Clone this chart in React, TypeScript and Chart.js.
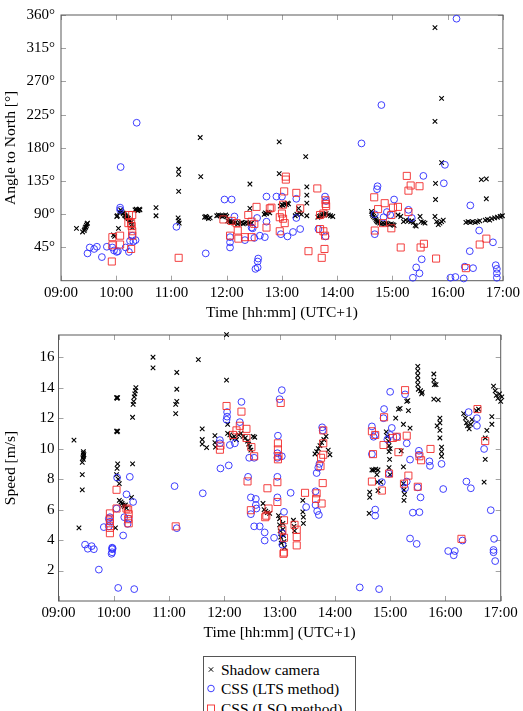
import React, { useEffect, useRef } from 'react';
import { Chart, registerables } from 'chart.js';

Chart.register(...registerables);

const FONT = '"Liberation Serif", "DejaVu Serif", serif';

// x: time of day in decimal hours, y: angle to north [deg]
const angleShadow: number[][] = [
  [9.28,71],[9.39,66],[9.42,68],[9.43,70],[9.44,72],[9.45,73],[9.46,75],[9.47,77],[9.48,78],
  [9.95,62],[9.97,60],[10.01,87],[10.02,88],[10.04,71],[10.06,93],[10.08,96],[10.10,94],[10.12,92],[10.13,91],[10.15,89],[10.16,88],[10.18,87],[10.19,86],[10.21,85],[10.22,84],[10.24,82],[10.25,81],[10.27,79],[10.28,76],[10.29,72],
  [10.34,96],[10.36,97],[10.37,96],[10.39,95],[10.40,96],[10.42,97],[10.43,96],
  [10.72,99],[10.72,88],
  [11.13,151],[11.13,144],[11.13,121],[11.12,85],[11.13,81],[11.14,78],
  [11.52,194],[11.53,141],
  [11.60,86],[11.62,87],[11.64,86],[11.67,84],[11.70,85],
  [11.82,88],[11.85,89],[11.88,88],[11.92,87],[11.95,88],[11.98,89],[12.0,87],
  [12.02,81],[12.05,80],[12.08,79],[12.1,80],[12.13,78],[12.16,79],[12.2,77],[12.24,78],[12.27,79],[12.3,77],[12.33,78],[12.36,79],[12.4,78],[12.43,77],[12.45,78],
  [12.42,131],[12.42,98],
  [12.68,90],[12.7,92],[12.72,91],[12.75,93],[12.78,92],
  [12.95,188],[12.95,145],
  [12.97,101],[13.0,103],[13.02,102],[13.05,104],[13.08,103],[13.1,105],[13.12,104],
  [13.24,88],[13.27,90],[13.3,98],[13.32,92],[13.35,90],
  [13.43,168],[13.45,127],[13.45,116],[13.45,105],[13.45,88],
  [13.65,86],[13.68,87],[13.7,88],[13.73,89],[13.76,90],[13.8,91],[13.84,89],[13.88,88],[13.92,87],
  [14.62,94],[14.63,91],[14.64,89],[14.66,87],[14.68,85],[14.7,83],[14.71,81],[14.73,80],[14.74,79],[14.77,78],[14.8,77],[14.83,78],[14.86,77],[14.89,78],[14.92,77],[14.95,76],[14.98,77],[15.01,76],[15.03,75],
  [15.1,89],[15.15,87],[15.2,80],[15.24,82],[15.29,81],[15.33,80],[15.35,81],[15.38,79],[15.41,75],[15.43,74],[15.5,87],[15.52,80],[15.56,79],[15.59,78],
  [15.77,343],[15.89,247],[15.77,216],[15.89,160],[15.78,132],[15.78,110],
  [15.77,87],[15.8,80],[15.83,76],[15.86,78],[15.89,80],[15.92,82],
  [16.33,79],[16.37,80],[16.41,79],[16.45,80],[16.5,79],[16.54,80],[16.58,81],
  [16.61,137],[16.7,138],[16.7,111],
  [16.68,82],[16.72,83],[16.76,82],[16.8,84],[16.85,85],[16.9,86],[16.95,87],[16.99,88],
];

const angleLTS: number[][] = [
  [9.48,37],[9.52,45],[9.6,43],[9.65,46],[9.74,32],[9.83,46],[9.93,45],[9.96,41],[10.01,39],[10.03,40],
  [10.07,99],[10.07,96],[10.08,154],[10.17,45],[10.23,39],[10.25,54],[10.29,61],[10.31,53],[10.35,55],[10.37,214],
  [11.09,73],[11.62,37],
  [11.96,110],[12.09,110],[12.14,87],[12.06,59],[12.06,52],[12.06,45],
  [12.33,55],[12.45,72],[12.47,71],[12.5,58],[12.55,85],[12.52,16],[12.56,18],[12.56,26],[12.57,30],[12.6,61],[12.69,59],[12.72,80],[12.72,114],[12.9,114],[12.98,63],[13.0,114],[13.1,60],[13.2,66],[13.26,111],[13.26,85],[13.33,70],[13.66,70],[13.78,114],[13.8,108],[13.79,60],
  [14.44,186],[14.68,63],[14.68,90],[14.72,124],[14.73,128],[14.8,238],[14.84,86],[14.9,93],[14.96,89],[15.03,110],[15.29,96],[15.35,85],
  [15.37,4],[15.43,18],[15.49,10],[15.53,29],[15.56,142],[15.93,132],[15.95,157],
  [16.05,4],[16.14,5],[16.29,3],[16.31,19],[16.16,355],[16.4,40],[16.41,102],[16.46,17],[16.57,68],[16.82,52],[16.87,21],[16.89,16],[16.89,10],[16.89,4],
];

const angleLSQ: number[][] = [
  [9.92,26],[9.93,48],[9.93,59],[10.07,61],[10.07,49],[10.22,78],[10.23,89],[10.27,78],[10.28,74],[10.29,89],[10.29,67],[10.29,61],[10.27,43],
  [11.13,31],
  [11.94,83],[12.09,81],[12.06,61],[12.18,78],[12.2,68],[12.21,57],[12.33,59],[12.39,89],[12.45,59],[12.45,80],[12.5,77],[12.54,100],[12.72,72],[12.78,98],[12.81,99],[12.96,67],[12.96,86],[13.0,91],[13.02,84],[13.02,103],[13.04,121],[13.05,78],[13.07,141],[13.07,137],[13.26,119],[13.33,98],[13.48,40],[13.64,125],[13.69,89],[13.69,70],[13.72,31],[13.75,91],[13.75,67],[13.77,43],[13.78,61],[13.79,109],[13.79,104],[13.8,101],
  [14.67,113],[14.68,68],[14.74,97],[14.83,78],[14.86,105],[14.98,89],[14.98,71],[15.01,99],[15.1,100],[15.15,45],[15.26,142],[15.29,122],[15.29,93],[15.33,129],[15.49,128],[15.51,45],[15.57,50],[15.79,30],[16.33,17],[16.58,49],[16.7,57],
];

// x: time of day in decimal hours, y: speed [m/s]
const speedShadow: number[][] = [
  [9.28,10.56],[9.45,9.8],[9.45,9.7],[9.46,9.6],[9.45,9.5],[9.44,9.4],[9.45,9.3],[9.43,9.1],[9.43,8.3],[9.43,7.3],[9.37,4.8],
  [10.05,13.35],[10.06,13.3],[10.07,13.35],[10.05,11.15],[10.06,11.1],[10.07,11.15],[10.07,9.0],[10.06,8.7],[10.05,8.3],[10.08,8.0],[10.1,7.7],[10.03,4.8],[10.1,6.6],[10.13,6.5],[10.15,6.4],[10.17,6.3],[10.19,6.2],[10.21,6.3],[10.23,6.1],
  [10.34,12.06],[10.35,12.9],[10.36,13.1],[10.37,13.4],[10.38,13.6],[10.39,13.8],[10.4,14.0],[10.34,9.0],[10.32,6.8],
  [10.71,16.0],[10.71,15.3],[11.14,15.0],[11.14,13.9],[11.14,13.1],[11.12,12.9],[11.12,12.3],[11.53,15.85],[11.6,11.3],[11.6,10.6],[11.6,10.3],[11.68,10.07],[11.83,10.85],[11.83,10.4],[11.84,10.1],
  [12.04,17.48],[12.04,14.5],[12.06,11.6],[12.06,11.0],[12.1,10.9],[12.14,10.7],[12.18,10.8],[12.22,10.6],[12.26,10.9],[12.3,11.0],[12.34,10.8],[12.38,10.7],[12.42,10.5],[12.44,10.3],[12.46,10.1],[12.48,9.9],[12.52,10.8],[12.55,10.75],
  [12.7,6.4],[12.72,6.0],[12.75,5.9],[12.78,5.8],[12.82,5.75],[12.98,5.6],[13.0,5.4],[13.0,5.0],[13.01,4.6],[13.02,4.2],[13.03,3.8],[13.06,5.1],[13.06,4.7],[13.07,4.3],[13.08,3.9],[13.09,3.5],[13.25,5.3],[13.26,4.9],[13.27,4.6],[13.42,6.6],[13.42,5.85],[13.43,5.5],[13.43,5.1],
  [13.64,9.65],[13.67,9.8],[13.7,10.0],[13.73,10.2],[13.76,10.4],[13.8,10.6],[13.84,10.8],[13.88,9.9],[13.91,9.6],
  [14.62,5.75],[14.63,7.14],[14.63,6.8],[14.67,8.6],[14.7,8.6],[14.74,8.65],[14.78,8.6],[14.76,8.3],[14.77,7.8],[14.78,7.25],[14.83,7.8],
  [14.93,11.1],[14.95,10.8],[14.97,10.5],[14.98,10.2],[15.0,10.0],[14.98,9.8],[14.99,9.3],[14.98,8.75],[15.0,8.3],
  [15.1,12.0],[15.15,12.6],[15.18,12.65],[15.24,11.6],[15.2,9.86],[15.24,8.8],[15.24,7.7],[15.25,7.3],[15.26,7.0],[15.25,6.6],[15.3,13.1],[15.32,13.15],[15.33,12.5],[15.36,11.35],
  [15.5,15.4],[15.5,15.1],[15.5,14.8],[15.5,14.5],[15.5,14.2],[15.51,13.9],[15.55,13.8],[15.57,13.6],[15.58,13.7],
  [15.79,14.9],[15.79,14.5],[15.8,14.2],[15.83,14.2],[15.87,13.2],[15.79,13.25],[15.85,11.5],[15.9,12.0],[15.9,11.7],[15.9,11.2],[15.9,10.7],[15.93,10.1],[15.93,9.8],[15.93,9.5],
  [16.33,12.3],[16.36,12.0],[16.38,11.7],[16.4,11.5],[16.43,11.3],[16.46,11.6],[16.48,11.9],[16.56,12.5],[16.6,12.6],
  [16.72,10.7],[16.72,9.3],[16.7,7.8],[16.75,11.2],[16.84,12.1],[16.84,11.6],
  [16.87,14.1],[16.9,13.8],[16.92,13.5],[16.95,13.3],[16.98,13.6],[17.0,13.1],[17.02,13.4],
];

const speedLTS: number[][] = [
  [9.48,3.7],[9.53,3.43],[9.6,3.6],[9.64,3.4],[9.73,2.06],[9.82,4.85],[9.91,5.4],[9.91,4.9],[9.93,5.5],[9.93,5.2],[9.97,3.5],[9.97,3.4],[9.97,3.2],[9.96,3.1],[9.98,3.45],
  [10.06,8.1],[10.05,6.07],[10.08,0.86],[10.37,0.78],[10.29,8.15],[10.23,7.0],[10.35,6.5],[10.17,4.3],[10.19,5.5],[10.25,5.06],[10.27,5.4],
  [11.1,7.54],[11.14,4.78],[11.61,7.07],
  [11.92,10.56],[11.92,10.35],[12.05,12.4],[12.05,12.1],[12.04,11.9],[12.08,8.9],[11.93,8.7],[12.31,13.07],[12.28,11.74],[12.1,10.24],[12.19,10.35],[12.45,9.4],[12.54,9.4],[12.43,8.15],[12.48,6.8],[12.57,6.7],[12.57,6.3],[12.58,6.07],[12.48,5.7],[12.54,4.9],[12.64,4.9],[12.73,4.5],[12.73,3.97],[12.9,4.15],
  [13.04,13.84],[13.0,13.25],[12.97,10.85],[12.96,9.7],[12.96,9.4],[13.04,9.5],[12.96,8.15],[12.96,6.8],[13.08,5.85],[13.05,4.45],[13.05,3.7],[13.2,7.1],[13.48,6.17],[13.67,8.4],[13.7,8.75],[13.72,9.0],[13.77,11.4],[13.78,11.2],[13.65,7.2],[13.71,5.65],[13.68,5.9],[13.65,6.3],
  [14.45,0.89],[14.8,0.78],
  [15.0,13.73],[15.27,13.56],[14.89,12.6],[14.88,12.0],[14.67,11.46],[14.7,10.78],[14.73,10.9],[15.03,11.36],[15.0,10.9],[14.95,10.6],[15.12,10.78],[15.3,10.35],[15.52,9.86],[15.52,9.6],[15.36,9.28],[15.71,9.17],[15.72,8.87],[15.93,9.0],[14.98,8.36],[15.3,7.84],[15.5,7.46],[15.27,7.4],[15.55,6.8],[15.96,7.35],[15.41,5.8],[15.53,5.83],[14.73,6.0],[14.73,5.6],[14.67,9.64],[14.85,7.8],[15.36,4.1],[15.48,3.75],
  [16.05,3.28],[16.17,3.28],[16.15,3.0],[16.31,3.97],[16.38,7.84],[16.46,7.4],[16.42,12.4],[16.57,12.0],[16.57,11.5],[16.7,9.98],[16.82,5.96],[16.88,4.08],[16.87,3.35],[16.9,2.62],[16.87,3.2],
];

const speedLSQ: number[][] = [
  [9.93,5.75],[9.93,5.4],[9.93,5.1],[9.93,4.8],[9.93,4.45],[10.05,7.3],[10.05,6.07],[10.23,6.07],[10.26,6.0],[10.27,5.7],[10.26,5.37],[10.27,5.1],[11.12,4.9],
  [12.04,12.8],[12.31,12.43],[12.4,11.3],[12.28,11.5],[12.22,11.2],[12.16,10.9],[12.4,10.7],[12.49,10.1],[12.54,9.5],[11.92,9.93],[11.93,10.2],[12.42,7.85],[12.78,7.4],[12.48,5.96],[12.8,6.07],[12.74,5.5],[12.76,5.6],
  [13.02,13.0],[12.97,10.35],[12.97,9.95],[12.98,9.5],[12.97,9.3],[12.96,7.8],[12.96,6.5],[13.08,5.3],[13.05,4.68],[13.08,4.15],[13.08,3.18],[13.07,3.1],[13.27,5.0],[13.31,4.68],[13.31,4.2],[13.31,3.65],[13.46,7.1],[13.67,7.07],[13.66,6.7],[13.76,6.4],[13.78,7.74],[13.74,8.85],[13.79,10.35],[13.79,11.2],[13.79,9.6],[13.75,9.4],
  [15.27,13.84],[14.89,12.06],[14.67,11.14],[14.69,9.64],[14.67,7.84],[14.73,10.9],[14.88,10.24],[15.05,10.7],[15.12,10.78],[15.3,10.85],[15.15,9.77],[14.98,8.36],[14.85,7.25],[15.33,8.23],[15.5,7.5],[15.25,7.7],[15.73,9.98],[15.56,9.24],[15.53,9.5],[16.29,4.08],[16.58,12.6],[16.72,10.5],
];

const timeMin = 9;
const timeMax = 17;
const angleTicks = [45, 90, 135, 180, 225, 270, 315, 360];
const speedTicks = [2, 4, 6, 8, 10, 12, 14, 16];

const seriesNames = ['Shadow camera', 'CSS (LTS method)', 'CSS (LSQ method)'];
const COL_SHADOW = '#000000';
const COL_LTS = '#2a2aff';
const COL_LSQ = '#f22a2a';

const toXY = (arr: number[][]) => arr.map(([x, y]) => ({ x, y }));

const framePlugin = {
  id: 'frameTicks',
  beforeDatasetsDraw(chart: any) {
    const { ctx, chartArea: a, scales } = chart;
    const xs = scales.x, ys = scales.y;
    ctx.save();
    ctx.strokeStyle = '#8a8a8a';
    ctx.lineWidth = 0.8;
    ctx.beginPath();
    xs.ticks.forEach((t: any) => {
      const p = Math.round(xs.getPixelForValue(t.value)) + 0.5;
      ctx.moveTo(p, a.bottom); ctx.lineTo(p, a.bottom - 5);
      ctx.moveTo(p, a.top); ctx.lineTo(p, a.top + 5);
    });
    ys.ticks.forEach((t: any) => {
      const p = Math.round(ys.getPixelForValue(t.value)) + 0.5;
      ctx.moveTo(a.left, p); ctx.lineTo(a.left + 5, p);
      ctx.moveTo(a.right, p); ctx.lineTo(a.right - 5, p);
    });
    ctx.stroke();
    ctx.strokeStyle = '#5a5a5a';
    ctx.lineWidth = 1;
    ctx.strokeRect(a.left, a.top, a.right - a.left, a.bottom - a.top);
    ctx.restore();
  },
};

type PanelProps = {
  top: number;
  height: number;
  padTop: number;
  padRight: number;
  yWidth: number;
  xHeight: number;
  yMin: number;
  yMax: number;
  yTicks: number[];
  yUnit: string;
  yTitle: string;
  yPad: number;
  shadow: number[][];
  lts: number[][];
  lsq: number[][];
};

function Panel(p: PanelProps) {
  const ref = useRef<HTMLCanvasElement | null>(null);
  useEffect(() => {
    if (!ref.current) return;
    const font = { family: FONT, size: 15 };
    const titleFont = { family: FONT, size: 15.5 };
    const chart = new Chart(ref.current, {
      type: 'scatter',
      data: {
        datasets: [
          {
            label: seriesNames[0], data: toXY(p.shadow), pointStyle: 'crossRot', pointRadius: 3.2,
            borderColor: COL_SHADOW, backgroundColor: COL_SHADOW, pointBorderWidth: 1.1, order: 3, clip: false,
          },
          {
            label: seriesNames[1], data: toXY(p.lts), pointStyle: 'circle', pointRadius: 3.4,
            borderColor: COL_LTS, backgroundColor: 'rgba(0,0,0,0)', pointBorderWidth: 0.9, order: 2, clip: false,
          },
          {
            label: seriesNames[2], data: toXY(p.lsq), pointStyle: 'rect', pointRadius: 5,
            borderColor: COL_LSQ, backgroundColor: 'rgba(0,0,0,0)', pointBorderWidth: 0.9, order: 1, clip: false,
          },
        ] as any,
      },
      options: {
        responsive: false,
        animation: false,
        events: [],
        layout: { padding: { top: p.padTop, right: p.padRight, left: 0, bottom: 0 } },
        plugins: { legend: { display: false }, tooltip: { enabled: false } },
        scales: {
          x: {
            type: 'linear', min: timeMin, max: timeMax,
            grid: { display: false, drawTicks: false },
            border: { display: false },
            afterFit: (s: any) => { s.height = p.xHeight; },
            afterBuildTicks: (s: any) => {
              const t = [];
              for (let h = timeMin; h <= timeMax; h++) t.push({ value: h });
              s.ticks = t;
            },
            ticks: {
              color: '#000', font, padding: 3, maxRotation: 0, autoSkip: false,
              callback: (v: any) => String(v).padStart(2, '0') + ':00',
            },
            title: { display: true, text: 'Time [hh:mm] (UTC+1)', color: '#000', font: titleFont, padding: { top: 0, bottom: 0 } },
          },
          y: {
            type: 'linear', min: p.yMin, max: p.yMax,
            grid: { display: false, drawTicks: false },
            border: { display: false },
            afterFit: (s: any) => { s.width = p.yWidth; },
            afterBuildTicks: (s: any) => { s.ticks = p.yTicks.map((v) => ({ value: v })); },
            ticks: {
              color: '#000', font, padding: p.yPad, autoSkip: false,
              callback: (v: any) => String(v) + p.yUnit,
            },
            title: { display: true, text: p.yTitle, color: '#000', font: titleFont, padding: { top: 2, bottom: 0 } },
          },
        },
      } as any,
      plugins: [framePlugin],
    });
    return () => chart.destroy();
  }, []);
  return (
    <canvas
      ref={ref}
      width={523}
      height={p.height}
      style={{ position: 'absolute', left: 0, top: p.top, width: 523, height: p.height }}
    />
  );
}

function LegendBox() {
  const rowStyle = (top: number): React.CSSProperties => ({
    position: 'absolute', left: 0, top, height: 19, width: '100%',
  });
  const text: React.CSSProperties = {
    position: 'absolute', left: 17, top: 0, fontFamily: FONT, fontSize: 15.5, lineHeight: '19px', whiteSpace: 'nowrap', color: '#000',
  };
  return (
    <div style={{ position: 'absolute', left: 203, top: 656, width: 153, height: 70, border: '1px solid #555', background: '#fff', boxSizing: 'border-box' }}>
      <div style={rowStyle(3)}>
        <svg width={14} height={19} style={{ position: 'absolute', left: 0, top: 0 }}>
          <path d="M4.8 7.3 L9.2 11.7 M9.2 7.3 L4.8 11.7" stroke={COL_SHADOW} strokeWidth={1} />
        </svg>
        <span style={text}>{seriesNames[0]}</span>
      </div>
      <div style={rowStyle(22.3)}>
        <svg width={14} height={19} style={{ position: 'absolute', left: 0, top: 0 }}>
          <circle cx={7} cy={9.5} r={3.3} fill="none" stroke={COL_LTS} strokeWidth={0.9} />
        </svg>
        <span style={text}>{seriesNames[1]}</span>
      </div>
      <div style={rowStyle(41.6)}>
        <svg width={14} height={19} style={{ position: 'absolute', left: 0, top: 0 }}>
          <rect x={3.5} y={6} width={7} height={7} fill="none" stroke={COL_LSQ} strokeWidth={0.9} />
        </svg>
        <span style={text}>{seriesNames[2]}</span>
      </div>
    </div>
  );
}

export default function App() {
  return (
    <div style={{ position: 'absolute', left: 0, top: 0, width: 523, height: 711, background: '#fff', overflow: 'hidden' }}>
      <Panel
        top={0} height={322} padTop={8.7} padRight={19.7} yWidth={61} xHeight={41.3}
        yMin={0} yMax={360} yTicks={angleTicks} yUnit="°" yTitle="Angle to North [°]" yPad={6}
        shadow={angleShadow} lts={angleLTS} lsq={angleLSQ}
      />
      <Panel
        top={322} height={320} padTop={7.3} padRight={22.3} yWidth={58.5} xHeight={41}
        yMin={0} yMax={17.46} yTicks={speedTicks} yUnit="" yTitle="Speed [m/s]" yPad={4}
        shadow={speedShadow} lts={speedLTS} lsq={speedLSQ}
      />
      <LegendBox />
    </div>
  );
}
